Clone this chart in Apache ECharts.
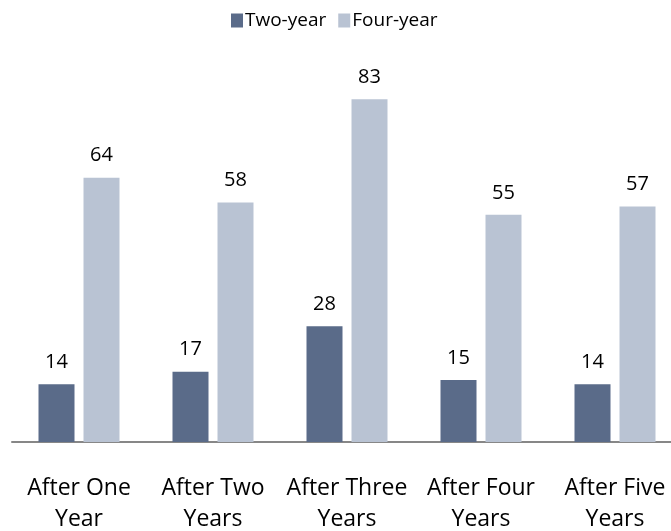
<!DOCTYPE html>
<html>
<head>
<meta charset="utf-8">
<script src="https://cdn.jsdelivr.net/npm/echarts@6/dist/echarts.min.js"></script>
<style>html,body{margin:0;padding:0;background:#fff}#c{width:671px;height:531px}</style>
</head>
<body>
<div id="c"></div>
<script>
const categories = ['After One\nYear', 'After Two\nYears', 'After Three\nYears', 'After Four\nYears', 'After Five\nYears'];
const twoYear = [14, 17, 28, 15, 14];
const fourYear = [64, 58, 83, 55, 57];
const seriesNames = ['Two-year', 'Four-year'];

const chart = echarts.init(document.getElementById('c'), null, {renderer: 'canvas'});
const font = '"Open Sans", sans-serif';
const labelStyle = {show: true, position: 'top', distance: 12, color: '#000', fontSize: 20, fontFamily: font};
chart.setOption({
  animation: false,
  legend: {
    data: seriesNames,
    left: 226, top: 6,
    itemWidth: 12, itemHeight: 14, itemGap: 12,
    icon: 'rect',
    textStyle: {fontSize: 19, fontFamily: font, color: '#000', padding: [0, 0, 0, -3]}
  },
  grid: {left: 12, right: -11, top: 29, bottom: 89, containLabel: false, outerBoundsMode: 'none'},
  xAxis: {
    type: 'category',
    data: categories,
    axisLine: {show: true, lineStyle: {color: '#878787', width: 2}},
    axisTick: {show: false},
    axisLabel: {fontSize: 23, fontFamily: font, color: '#000', margin: 31, lineHeight: 31, interval: 0, hideOverlap: false}
  },
  yAxis: {type: 'value', min: 0, max: 100, show: false, splitLine: {show: false}},
  series: [
    {name: seriesNames[0], type: 'bar', data: twoYear, barWidth: 36, barGap: '25%',
     itemStyle: {color: '#5A6B89'}, label: labelStyle},
    {name: seriesNames[1], type: 'bar', data: fourYear, barWidth: 36,
     itemStyle: {color: '#B9C3D3'}, label: labelStyle}
  ]
});
</script>
</body>
</html>
